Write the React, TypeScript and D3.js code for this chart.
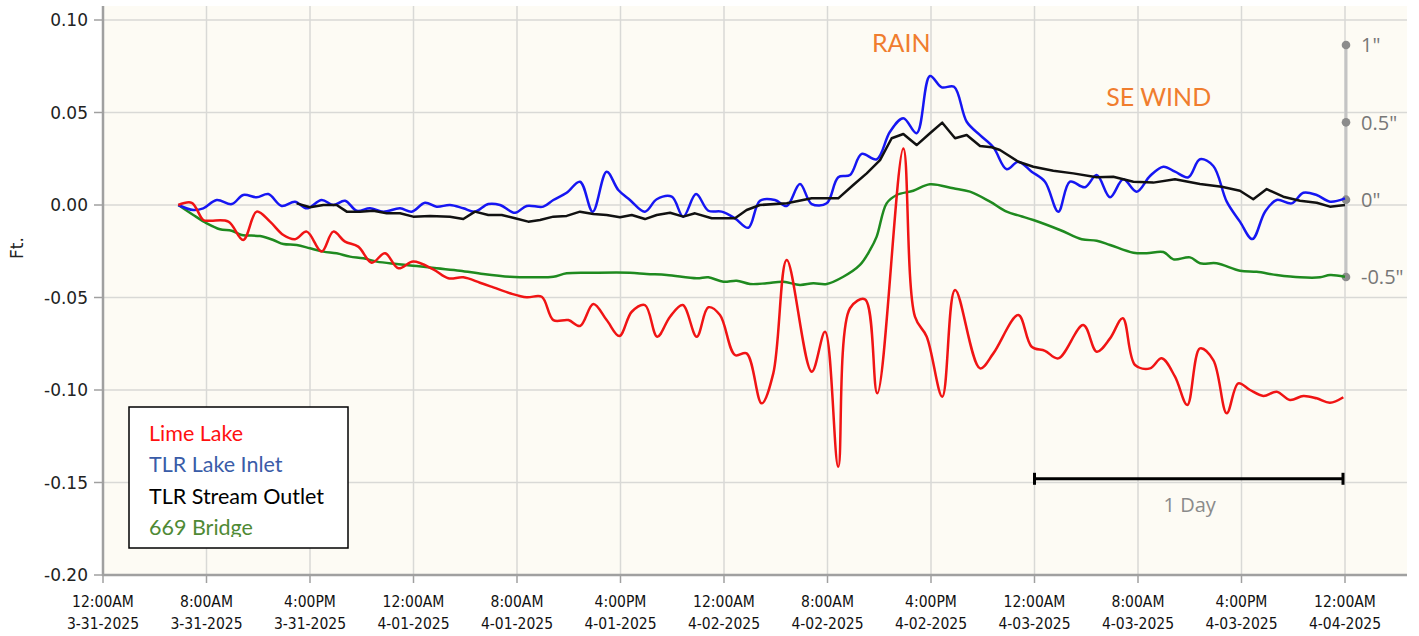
import React from "react";
import * as d3 from "d3";

// ---------- data (hours since 3-31-2025 12:00AM, feet) ----------
const limeLake: [number, number][] = [
  [5.82, 0], [6.86, 0.0012], [7.75, -0.0081], [8.27, -0.0085], [9.69, -0.009], [10.84, -0.0189],
  [11.88, -0.0036], [12.91, -0.009], [13.94, -0.0162], [14.84, -0.0185], [15.75, -0.0144],
  [16.9, -0.0252], [17.8, -0.0144], [18.71, -0.0198], [19.73, -0.0225], [20.77, -0.0312],
  [21.8, -0.0261], [22.83, -0.0342], [23.98, -0.0306], [25.53, -0.0348], [26.69, -0.0396],
  [27.85, -0.0391], [29.14, -0.042], [30.17, -0.0445], [31.46, -0.0477], [32.75, -0.0499],
  [33.91, -0.0496], [34.81, -0.0622], [35.97, -0.0622], [36.87, -0.0654], [37.9, -0.0535],
  [38.93, -0.0622], [39.91, -0.0708], [40.87, -0.0577], [41.89, -0.0541], [42.84, -0.0712],
  [43.83, -0.0604], [44.81, -0.0541], [45.89, -0.0712], [46.79, -0.0553], [47.69, -0.0595],
  [48.85, -0.0811], [49.75, -0.0802], [50.91, -0.1072], [51.81, -0.091], [52.85, -0.0297],
  [54.78, -0.0901], [55.81, -0.0685], [56.83, -0.1415], [57.74, -0.0558], [58.9, -0.051],
  [59.85, -0.1018], [61.86, 0.0306], [62.76, -0.0604], [63.67, -0.0712], [64.87, -0.1036],
  [65.86, -0.0459], [67.79, -0.0883], [68.82, -0.0802], [70.75, -0.0595], [71.78, -0.0766],
  [72.81, -0.0788], [73.84, -0.0829], [75.77, -0.0649], [76.81, -0.0793], [77.84, -0.0721],
  [78.82, -0.0612], [79.77, -0.0865], [80.93, -0.0883], [81.83, -0.0829], [82.86, -0.0928],
  [83.81, -0.1081], [84.79, -0.0775], [85.82, -0.0838], [86.86, -0.1126], [87.75, -0.0964],
  [88.66, -0.1], [89.69, -0.1032], [90.72, -0.1009], [91.75, -0.1054], [92.78, -0.1032],
  [93.81, -0.1045], [94.84, -0.1069], [95.87, -0.1039],
];

const tlrLakeInlet: [number, number][] = [
  [5.82, 0], [6.98, -0.0027], [7.75, -0.0018], [8.79, 0.0027], [9.95, 0.0005], [10.84, 0.0054],
  [11.88, 0.0042], [12.78, 0.0059], [13.81, -0.0005], [14.84, 0.0018], [15.75, -0.0018],
  [16.9, 0.0027], [17.8, 0], [18.71, 0.0023], [19.61, -0.0031], [20.64, -0.0018], [21.67, -0.0036],
  [22.96, -0.0018], [23.86, -0.0036], [24.89, 0.0012], [25.79, -0.0009], [26.82, 0],
  [27.85, -0.0018], [28.75, -0.0036], [29.78, 0.0005], [30.69, 0], [31.85, -0.0042],
  [32.75, -0.0005], [34.03, -0.0009], [34.81, 0.0027], [35.84, 0.0066], [36.87, 0.0126],
  [37.85, -0.0036], [38.93, 0.018], [39.83, 0.0081], [40.73, 0.0027], [41.89, -0.0036],
  [42.8, 0.0031], [43.96, 0.0045], [44.85, -0.0063], [45.84, 0.0059], [46.79, -0.0031],
  [47.82, -0.0036], [48.85, -0.0072], [49.88, -0.0123], [50.78, 0.0023], [51.94, 0.0027],
  [52.85, -0.0005], [53.87, 0.0114], [54.78, 0.0005], [55.94, 0.0009], [56.83, 0.015],
  [57.74, 0.0162], [58.64, 0.0276], [59.8, 0.0247], [60.83, 0.0396], [61.86, 0.0469],
  [62.89, 0.0388], [63.92, 0.0697], [64.83, 0.0636], [65.78, 0.0639], [66.76, 0.045],
  [67.79, 0.0378], [68.82, 0.0312], [69.85, 0.0193], [70.75, 0.0234], [71.78, 0.018],
  [72.81, 0.0126], [73.84, -0.0036], [74.74, 0.0126], [75.9, 0.0096], [76.81, 0.0162],
  [77.84, 0.0042], [78.86, 0.0139], [79.9, 0.0072], [80.93, 0.0157], [81.96, 0.0207],
  [82.86, 0.018], [83.89, 0.015], [84.79, 0.0247], [85.82, 0.0211], [86.86, 0.0018],
  [87.88, -0.009], [88.84, -0.0184], [89.82, -0.0036], [90.72, 0.0027], [91.88, 0.0009],
  [92.78, 0.0066], [93.81, 0.0054], [94.84, 0.0018], [96.0, 0.0036],
];

const tlrStreamOutlet: [number, number][] = [
  [14.97, 0.0009], [16.0, -0.0012], [17.03, 0], [18.06, 0], [18.84, -0.0036], [19.86, -0.0036],
  [20.89, -0.0031], [21.93, -0.0045], [22.96, -0.0045], [23.98, -0.0063], [25.28, -0.0059],
  [26.82, -0.0063], [27.85, -0.0076], [28.75, -0.0036], [29.78, -0.0054], [30.82, -0.0054],
  [31.85, -0.0072], [32.87, -0.009], [33.78, -0.0081], [34.81, -0.0063], [35.84, -0.0059],
  [36.87, -0.0036], [37.9, -0.0049], [38.93, -0.0054], [39.96, -0.0066], [40.87, -0.0054],
  [41.89, -0.0076], [42.8, -0.0054], [43.83, -0.0042], [44.85, -0.0063], [45.76, -0.0045],
  [47.05, -0.0072], [48.85, -0.0072], [49.75, -0.0027], [50.78, 0], [52.85, 0.0009],
  [54.78, 0.0036], [56.83, 0.0036], [57.99, 0.0108], [59.03, 0.0171], [60.06, 0.0243],
  [60.96, 0.0361], [61.86, 0.0384], [62.89, 0.0324], [63.92, 0.0388], [64.87, 0.0445],
  [65.86, 0.0361], [66.76, 0.0378], [67.79, 0.0319], [68.69, 0.0312], [69.33, 0.0297],
  [70.75, 0.0234], [71.91, 0.0207], [73.45, 0.0185], [75.0, 0.0171], [76.81, 0.015],
  [78.09, 0.0153], [79.64, 0.0126], [81.18, 0.0121], [82.86, 0.0139], [84.79, 0.0114],
  [86.47, 0.0099], [87.88, 0.0077], [88.91, 0.0031], [89.95, 0.0086], [91.23, 0.0045],
  [92.52, 0.0023], [93.81, 0.0012], [94.84, -0.0009], [96.0, 0],
];

const bridge669: [number, number][] = [
  [5.82, 0], [6.98, -0.0054], [8.02, -0.0099], [9.04, -0.0131], [9.95, -0.0139], [10.72, -0.0162],
  [12.14, -0.0168], [13.16, -0.0189], [13.94, -0.0211], [14.97, -0.0216], [16.0, -0.0234],
  [17.03, -0.0252], [18.06, -0.0261], [19.09, -0.0279], [20.12, -0.0288], [21.16, -0.0306],
  [22.7, -0.0319], [24.25, -0.033], [25.79, -0.0342], [27.59, -0.0355], [29.39, -0.0373],
  [31.46, -0.0388], [33.26, -0.0391], [34.81, -0.0388], [35.84, -0.0369], [37.9, -0.0366],
  [40.73, -0.0366], [42.02, -0.0373], [43.57, -0.0378], [45.89, -0.0396], [46.79, -0.0391],
  [47.95, -0.0415], [48.98, -0.0409], [50.01, -0.0427], [51.3, -0.0423], [52.58, -0.0415],
  [53.87, -0.0432], [54.9, -0.0423], [55.94, -0.0427], [57.22, -0.0388], [58.51, -0.0324],
  [59.29, -0.0243], [59.8, -0.0171], [60.57, 0.0009], [61.35, 0.0054], [62.63, 0.0077],
  [63.92, 0.0112], [65.72, 0.009], [67.01, 0.0072], [68.56, 0.0018], [69.85, -0.0036],
  [70.88, -0.0059], [71.91, -0.0081], [73.97, -0.0135], [75.65, -0.0185], [76.81, -0.0193],
  [77.84, -0.0216], [79.64, -0.0258], [80.67, -0.0261], [81.96, -0.0254], [82.74, -0.0294],
  [84.02, -0.0283], [84.79, -0.0315], [86.08, -0.0315], [87.88, -0.0355], [89.17, -0.0361],
  [90.72, -0.0378], [92.52, -0.0391], [94.07, -0.0391], [94.84, -0.0378], [96.0, -0.0388],
];

const yTicks = [0.1, 0.05, 0, -0.05, -0.1, -0.15, -0.2];
const xTickHours = [0, 8, 16, 24, 32, 40, 48, 56, 64, 72, 80, 88, 96];
const rainTicks = [1, 0.5, 0, -0.5];
const rainTickLabels = ['1"', '0.5"', '0"', '-0.5"'];
const legendNames = ["Lime Lake", "TLR Lake Inlet", "TLR Stream Outlet", "669 Bridge"];
const legendColors = ["#ff1010", "#3a5ca8", "#000000", "#4f8a35"];
const annotations = [
  { text: "RAIN", hour: 61.7, value: 0.0825 },
  { text: "SE WIND", hour: 81.6, value: 0.0534 },
];
const scaleBarHours = [72, 96];
const scaleBarValue = -0.148;

// ---------- layout ----------
const W = 1419;
const H = 636;
const plotLeft = 103;
const plotRight = 1407;
const plotTop = 6;
const plotBottom = 575;

const startUtc = Date.UTC(2025, 2, 31, 0, 0);
const toDate = (h: number) => new Date(startUtc + h * 3600e3);

const x = d3.scaleUtc().domain([toDate(0), toDate(96)]).range([103, 1345]);
const y = d3.scaleLinear().domain([-0.2, 0.1]).range([575, 20]);
const rainY = d3.scaleLinear().domain([-0.5, 1]).range([277, 45]);
const rainX = 1346;

const fmtTime = d3.utcFormat("%-I:%M%p");
const fmtDate = d3.utcFormat("%-m-%d-%Y");
const fmt2 = d3.format(".2f");
const fmtY = (v: number) => fmt2(v).replace("\u2212", "-");

const smooth = d3
  .line<[number, number]>()
  .x((d) => x(toDate(d[0])))
  .y((d) => y(d[1]))
  .curve(d3.curveCatmullRom.alpha(0.5));
const straight = d3
  .line<[number, number]>()
  .x((d) => x(toDate(d[0])))
  .y((d) => y(d[1]))
  .curve(d3.curveLinear);

export default function App() {
  const tickFont = "DejaVu Sans";
  return (
    <svg
      width={W}
      height={H}
      style={{ position: "absolute", left: 0, top: 0, background: "#fff" }}
    >
      <defs>
        <clipPath id="legendClip">
          <rect x={129} y={407} width={220} height={130} />
        </clipPath>
      </defs>
      <rect x={plotLeft} y={plotTop} width={plotRight - plotLeft} height={plotBottom - plotTop} fill="#fdfbf4" />
      {/* grid */}
      {yTicks.map((t) => (
        <line key={"gy" + t} x1={plotLeft} x2={plotRight} y1={y(t)} y2={y(t)} stroke="#d9d9d6" strokeWidth={1.5} />
      ))}
      {xTickHours.map((h) => (
        <line key={"gx" + h} x1={x(toDate(h))} x2={x(toDate(h))} y1={plotTop} y2={plotBottom} stroke="#d9d9d6" strokeWidth={1.5} />
      ))}
      {/* axes */}
      <line x1={plotLeft} x2={plotLeft} y1={plotTop} y2={plotBottom + 1} stroke="#a0a0a0" strokeWidth={2.5} />
      <line x1={plotLeft - 1} x2={plotRight} y1={plotBottom} y2={plotBottom} stroke="#a0a0a0" strokeWidth={2.5} />
      {yTicks.map((t) => (
        <g key={"yt" + t}>
          <line x1={94} x2={plotLeft} y1={y(t)} y2={y(t)} stroke="#a0a0a0" strokeWidth={1.5} />
          <text x={88} y={y(t)} dy="0.36em" textAnchor="end" fontFamily={tickFont} fontSize={17} fill="#222">
            {fmtY(t)}
          </text>
        </g>
      ))}
      {xTickHours.map((h) => {
        const d = toDate(h);
        const px = x(d);
        return (
          <g key={"xt" + h}>
            <line x1={px} x2={px} y1={plotBottom} y2={plotBottom + 8} stroke="#a0a0a0" strokeWidth={1.5} />
            <text x={px} y={607} textAnchor="middle" fontFamily="DejaVu Sans Condensed" fontSize={15.5} fill="#111">
              {fmtTime(d)}
            </text>
            <text x={px} y={629} textAnchor="middle" fontFamily="DejaVu Sans Condensed" fontSize={15.5} fill="#111">
              {fmtDate(d)}
            </text>
          </g>
        );
      })}
      <text
        transform={`translate(23,248) rotate(-90)`}
        textAnchor="middle"
        fontFamily={tickFont}
        fontSize={17}
        fill="#222"
      >
        Ft.
      </text>
      {/* rain axis */}
      <line x1={rainX} x2={rainX} y1={rainY(1)} y2={rainY(-0.5)} stroke="#c4c4c4" strokeWidth={3} />
      {rainTicks.map((t, i) => (
        <g key={"rt" + t}>
          <circle cx={rainX} cy={rainY(t)} r={4.3} fill="#8c8c8c" />
          <text x={1361} y={rainY(t)} dy="0.36em" fontFamily="Open Sans" fontSize={20} fill="#777">
            {rainTickLabels[i]}
          </text>
        </g>
      ))}
      {/* series */}
      <path d={smooth(bridge669) || ""} fill="none" stroke="#1f8a1f" strokeWidth={2.5} strokeLinejoin="round" />
      <path d={smooth(tlrLakeInlet) || ""} fill="none" stroke="#1616f2" strokeWidth={2.5} strokeLinejoin="round" />
      <path d={straight(tlrStreamOutlet) || ""} fill="none" stroke="#111" strokeWidth={2.5} strokeLinejoin="round" />
      <path d={smooth(limeLake) || ""} fill="none" stroke="#f01414" strokeWidth={2.5} strokeLinejoin="round" />
      {/* annotations */}
      {annotations.map((a) => (
        <text
          key={a.text}
          x={x(toDate(a.hour))}
          y={y(a.value)}
          textAnchor="middle"
          fontFamily="Lato"
          fontSize={25}
          fill="#f07d2e"
        >
          {a.text}
        </text>
      ))}
      {/* scale bar */}
      <g stroke="#000" strokeWidth={3}>
        <line x1={x(toDate(scaleBarHours[0]))} x2={x(toDate(scaleBarHours[1])) - 2} y1={y(scaleBarValue)} y2={y(scaleBarValue)} />
        <line x1={x(toDate(scaleBarHours[0]))} x2={x(toDate(scaleBarHours[0]))} y1={y(scaleBarValue) - 6} y2={y(scaleBarValue) + 6} />
        <line x1={x(toDate(scaleBarHours[1])) - 2} x2={x(toDate(scaleBarHours[1])) - 2} y1={y(scaleBarValue) - 6} y2={y(scaleBarValue) + 6} />
      </g>
      <text
        x={(x(toDate(scaleBarHours[0])) + x(toDate(scaleBarHours[1]))) / 2}
        y={512}
        textAnchor="middle"
        fontFamily="Open Sans"
        fontSize={20}
        fill="#8a8a8a"
      >
        1 Day
      </text>
      {/* legend */}
      <rect x={129} y={407} width={219} height={141} fill="#fff" stroke="#000" strokeWidth={1.5} />
      <g clipPath="url(#legendClip)">
        {legendNames.map((n, i) => (
          <text key={n} x={149} y={441 + i * 31.3} fontFamily="Lato" fontSize={21.5} fill={legendColors[i]}>
            {n}
          </text>
        ))}
      </g>
    </svg>
  );
}
